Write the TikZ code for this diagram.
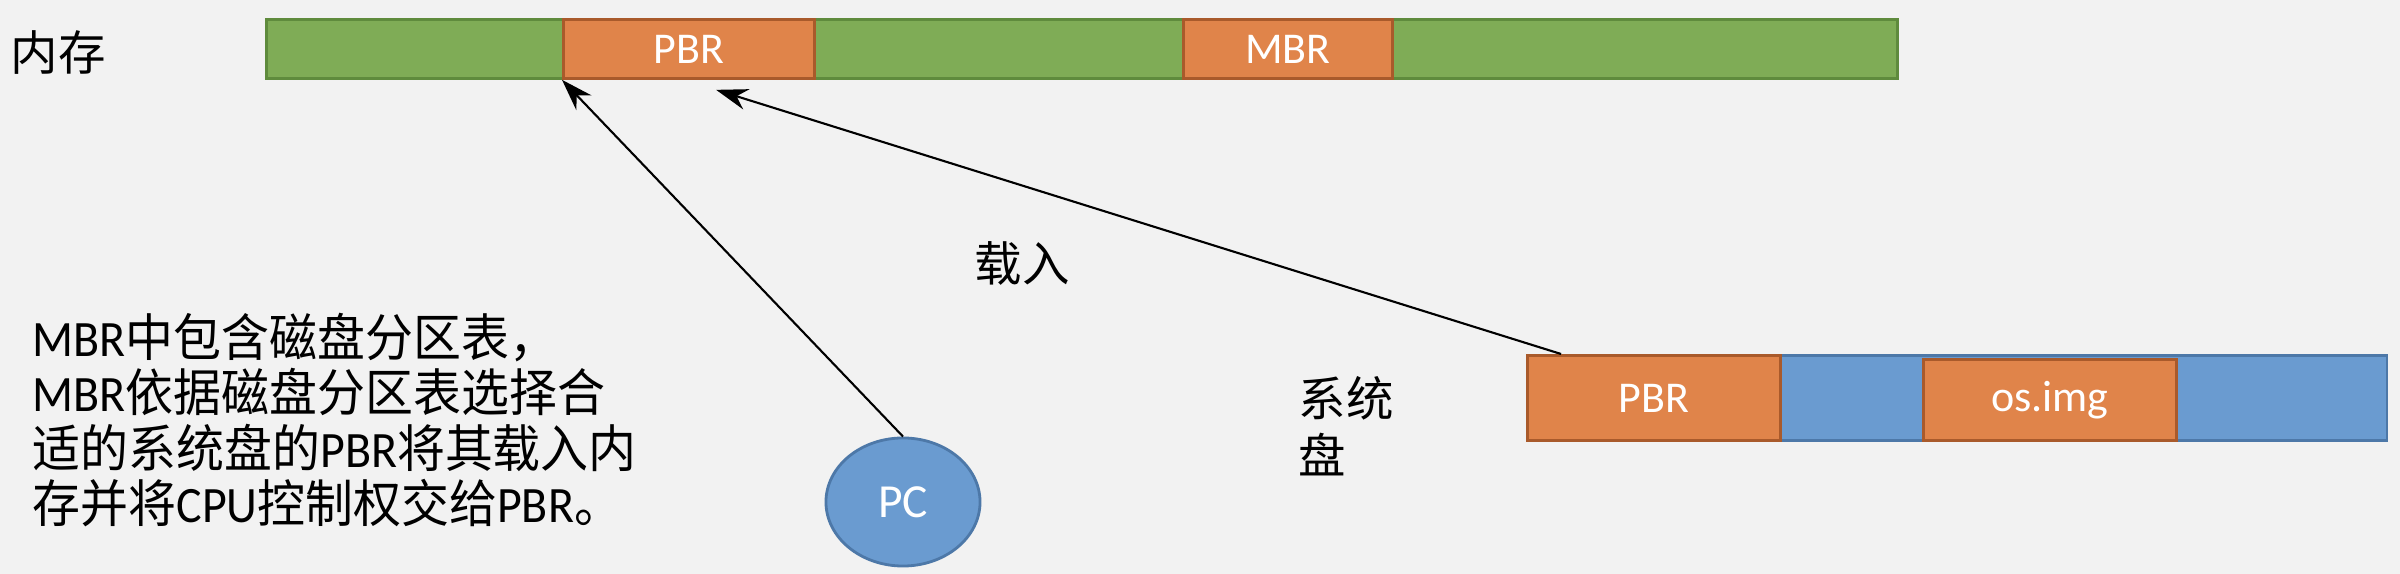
\documentclass[tikz,border=0pt]{standalone}
\usepackage{fontspec}
\setmainfont{Carlito}
\newfontfamily\cjk{Noto Sans CJK SC}
\usetikzlibrary{arrows.meta,shapes.geometric}
\definecolor{bgc}{HTML}{F2F2F2}
\definecolor{gfill}{HTML}{7FAC56}
\definecolor{gline}{HTML}{5F8B3D}
\definecolor{ofill}{HTML}{E0844A}
\definecolor{oline}{HTML}{A95A2B}
\definecolor{bfill}{HTML}{6A9BD0}
\definecolor{bline}{HTML}{4D78A8}
\tikzset{
  gseg/.style={draw=gline,fill=gfill,line width=0.8pt,inner sep=0pt,anchor=north west},
  oseg/.style={draw=oline,fill=ofill,line width=0.8pt,inner sep=0pt,anchor=north west,text=white,font=\fontsize{12.5}{14}\selectfont},
  bseg/.style={draw=bline,fill=bfill,line width=0.8pt,inner sep=0pt,anchor=north west},
  pcnode/.style={ellipse,draw=bline,fill=bfill,line width=0.8pt,inner sep=0pt,text=white,font=\fontsize{13.5}{15}\selectfont},
  lbl/.style={inner sep=0pt,font=\cjk\fontsize{13.5}{15}\selectfont},
  conn/.style={-{Stealth[length=9pt,width=6pt]},line width=0.6pt,black}
}
\begin{document}
\begin{tikzpicture}[x=0.01cm,y=-0.01cm]
\fill[bgc] (0,0) rectangle (2400,574);
\useasboundingbox (0,0) rectangle (2400,574);
% memory
\node[lbl] (memlbl) at (58,53) {内存};
\node[gseg,minimum width=16.30cm,minimum height=0.59cm] (mem) at (265,18) {};
\node[oseg,minimum width=2.51cm,minimum height=0.59cm] (mpbr) at (562,18) {PBR};
\node[oseg,minimum width=2.09cm,minimum height=0.59cm] (mmbr) at (1182,18) {MBR};
% disk
\node[lbl,anchor=west] (disk1) at (1298,398) {系统};
\node[lbl,anchor=west] (disk2) at (1298,455) {盘};
\node[bseg,minimum width=8.59cm,minimum height=0.85cm] (disk) at (1526,354) {};
\node[oseg,minimum width=2.53cm,minimum height=0.85cm] (dpbr) at (1526,354) {PBR};
\node[oseg,minimum width=2.53cm,minimum height=0.81cm] (osimg) at (1922,358) {os.img};
% PC
\node[pcnode,minimum width=1.54cm,minimum height=1.28cm] (pc) at (903,502) {PC};
% label
\node[lbl] (load) at (1022,263) {载入};
% text block
\node[inner sep=0pt,anchor=north west,align=left,xscale=0.94,transform shape,font=\fontsize{14.5}{15.8}\selectfont] (desc) at (32,312)
{MBR{\cjk 中包含磁盘分区表，}\\
MBR{\cjk 依据磁盘分区表选择合}\\
{\cjk 适的系统盘的}PBR{\cjk 将其载入内}\\
{\cjk 存并将}CPU{\cjk 控制权交给}PBR{\cjk 。}};
% connectors
\draw[conn] (pc.north) -- (mpbr.south west);
\draw[conn] ([xshift=0.35cm]dpbr.north west) -- ([xshift=1.54cm,yshift=-0.1cm]mpbr.south west);
\end{tikzpicture}
\end{document}
